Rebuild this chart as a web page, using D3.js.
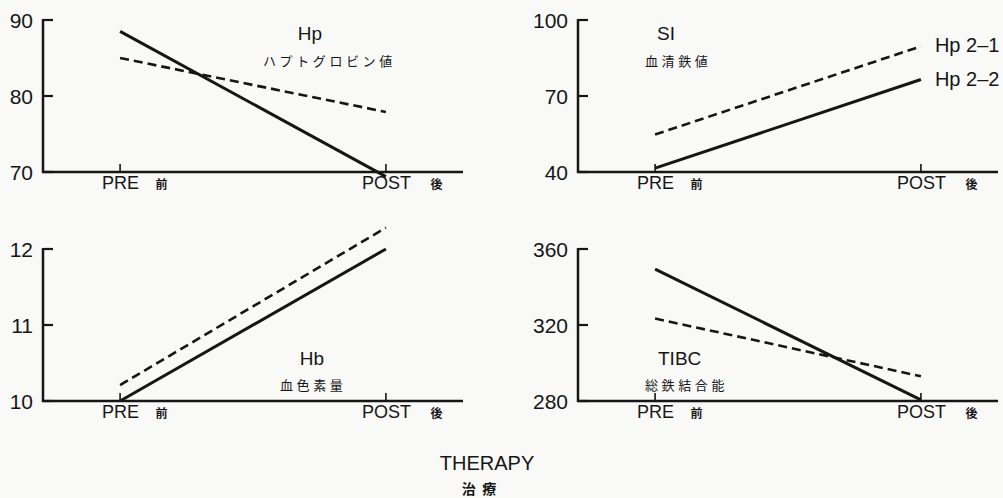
<!DOCTYPE html>
<html>
<head>
<meta charset="utf-8">
<script src="https://cdn.jsdelivr.net/npm/d3@7"></script>
<style>
  html, body { margin: 0; padding: 0; background: #f9f9f8; }
  svg { display: block; }
  text { fill: #161616; font-family: "Liberation Sans", Arial, sans-serif; }
  .jp { font-family: "Noto Sans CJK JP", sans-serif; }
</style>
</head>
<body>
<svg id="chart" width="1003" height="498"></svg>
<script>
// Before / after therapy
const therapy = ["PRE", "POST"];
const therapyJp = ["前", "後"];

// Haptoglobin types
const seriesNames = ["Hp 2\u20131", "Hp 2\u20132"];

// Mean values per measure: [PRE, POST]
const hpDashed = [85.0, 77.9];
const hpSolid = [88.5, 69.4];
const hbDashed = [10.21, 12.28];
const hbSolid = [10.0, 12.0];
const siDashed = [54.8, 89.6];
const siSolid = [41.5, 76.5];
const tibcDashed = [323.4, 293.0];
const tibcSolid = [349.4, 280.6];

// Axis ticks
const hpTicks = [70, 80, 90];
const hbTicks = [10, 11, 12];
const siTicks = [40, 70, 100];
const tibcTicks = [280, 320, 360];

// Panel titles
const titles = ["Hp", "Hb", "SI", "TIBC"];
const subtitles = ["ハプトグロビン値", "血色素量", "血清鉄値", "総鉄結合能"];

const svg = d3.select("#chart");
const ink = "#161616";

const panels = [
  { ox: 43,  top: 20,  bottom: 172, ticks: hpTicks,   dashed: hpDashed,   solid: hpSolid,
    title: titles[0], sub: subtitles[0], tx: 267, ty: 40,  sx: 220, sy: 66, tAnchor: "middle" },
  { ox: 43,  top: 249, bottom: 401, ticks: hbTicks,   dashed: hbDashed,   solid: hbSolid,
    title: titles[1], sub: subtitles[1], tx: 269, ty: 365, sx: 237, sy: 390, tAnchor: "middle" },
  { ox: 578, top: 20,  bottom: 172, ticks: siTicks,   dashed: siDashed,   solid: siSolid,
    title: titles[2], sub: subtitles[2], tx: 79,  ty: 40,  sx: 67,  sy: 66, tAnchor: "start", legend: true },
  { ox: 578, top: 249, bottom: 401, ticks: tibcTicks, dashed: tibcDashed, solid: tibcSolid,
    title: titles[3], sub: subtitles[3], tx: 80,  ty: 365, sx: 67,  sy: 390, tAnchor: "start" }
];

const axisLen = 420;
const ruleW = 2.5;

panels.forEach(p => {
  const g = svg.append("g").attr("transform", `translate(${p.ox},0)`);

  const x = d3.scalePoint().domain(therapy).range([0, axisLen]).padding(0.29);
  const y = d3.scaleLinear().domain(d3.extent(p.ticks)).range([p.bottom, p.top]);

  // Y axis labels
  const ya = g.append("g")
    .call(d3.axisLeft(y).tickValues(p.ticks).tickFormat(d3.format("d"))
      .tickSize(0).tickPadding(10));
  ya.select(".domain").remove();
  ya.selectAll(".tick line").remove();
  ya.selectAll(".tick text").attr("font-size", 21).attr("fill", ink).attr("dy", "0.36em");

  // Y rule and inward ticks as filled bars
  g.append("rect")
    .attr("x", -ruleW / 2).attr("y", y.range()[1] - 1)
    .attr("width", ruleW).attr("height", y.range()[0] - y.range()[1] + 2)
    .attr("fill", ink);
  g.selectAll(".ytick").data(p.ticks).join("rect")
    .attr("class", "ytick")
    .attr("x", 0).attr("y", d => y(d) - 1.1)
    .attr("width", 10).attr("height", 2.2)
    .attr("fill", ink);

  // X axis labels
  const xa = g.append("g").attr("transform", `translate(0,${p.bottom})`)
    .call(d3.axisBottom(x).tickSize(0).tickPadding(4));
  xa.select(".domain").remove();
  xa.selectAll(".tick line").remove();
  xa.selectAll(".tick text").attr("font-size", 18).attr("fill", ink);
  xa.selectAll(".tick").append("text")
    .attr("class", "jp")
    .attr("x", (d, i) => i === 0 ? 41 : 50)
    .attr("y", 17)
    .attr("text-anchor", "middle")
    .attr("font-size", 12)
    .attr("font-weight", "bold")
    .attr("fill", ink)
    .text((d, i) => therapyJp[i]);

  // X rule and PRE/POST ticks as filled bars
  g.append("rect")
    .attr("x", x.range()[0] - 1).attr("y", p.bottom - ruleW / 2)
    .attr("width", x.range()[1] - x.range()[0] + 1).attr("height", ruleW)
    .attr("fill", ink);
  g.selectAll(".xtick").data(therapy).join("rect")
    .attr("class", "xtick")
    .attr("x", d => x(d) - 0.8).attr("y", p.bottom - 8)
    .attr("width", 1.6).attr("height", 8)
    .attr("fill", ink);

  const line = d3.line().x((v, i) => x(therapy[i])).y(v => y(v));

  g.append("path").datum(p.dashed)
    .attr("d", line).attr("fill", "none")
    .attr("stroke", ink).attr("stroke-width", 2.6)
    .attr("stroke-dasharray", "9,5");
  g.append("path").datum(p.solid)
    .attr("d", line).attr("fill", "none")
    .attr("stroke", ink).attr("stroke-width", 3);

  g.append("text")
    .attr("x", p.tx).attr("y", p.ty)
    .attr("text-anchor", p.tAnchor)
    .attr("font-size", 19)
    .text(p.title);
  g.append("text")
    .attr("class", "jp")
    .attr("x", p.sx).attr("y", p.sy)
    .attr("font-size", 13)
    .attr("letter-spacing", 3.6)
    .text(p.sub);

  if (p.legend) {
    const ends = [p.dashed[1], p.solid[1]];
    g.selectAll(".legend").data(seriesNames).join("text")
      .attr("x", x("POST") + 14)
      .attr("y", (d, i) => y(ends[i]) + 6)
      .attr("font-size", 20)
      .text(d => d);
  }
});

// Shared x-axis caption
svg.append("text")
  .attr("x", 487).attr("y", 470)
  .attr("text-anchor", "middle")
  .attr("font-size", 20)
  .text("THERAPY");
svg.append("text")
  .attr("class", "jp")
  .attr("x", 479).attr("y", 494)
  .attr("text-anchor", "middle")
  .attr("font-size", 14)
  .attr("font-weight", "bold")
  .attr("xml:space", "preserve")
  .text("治  療");
</script>
</body>
</html>
